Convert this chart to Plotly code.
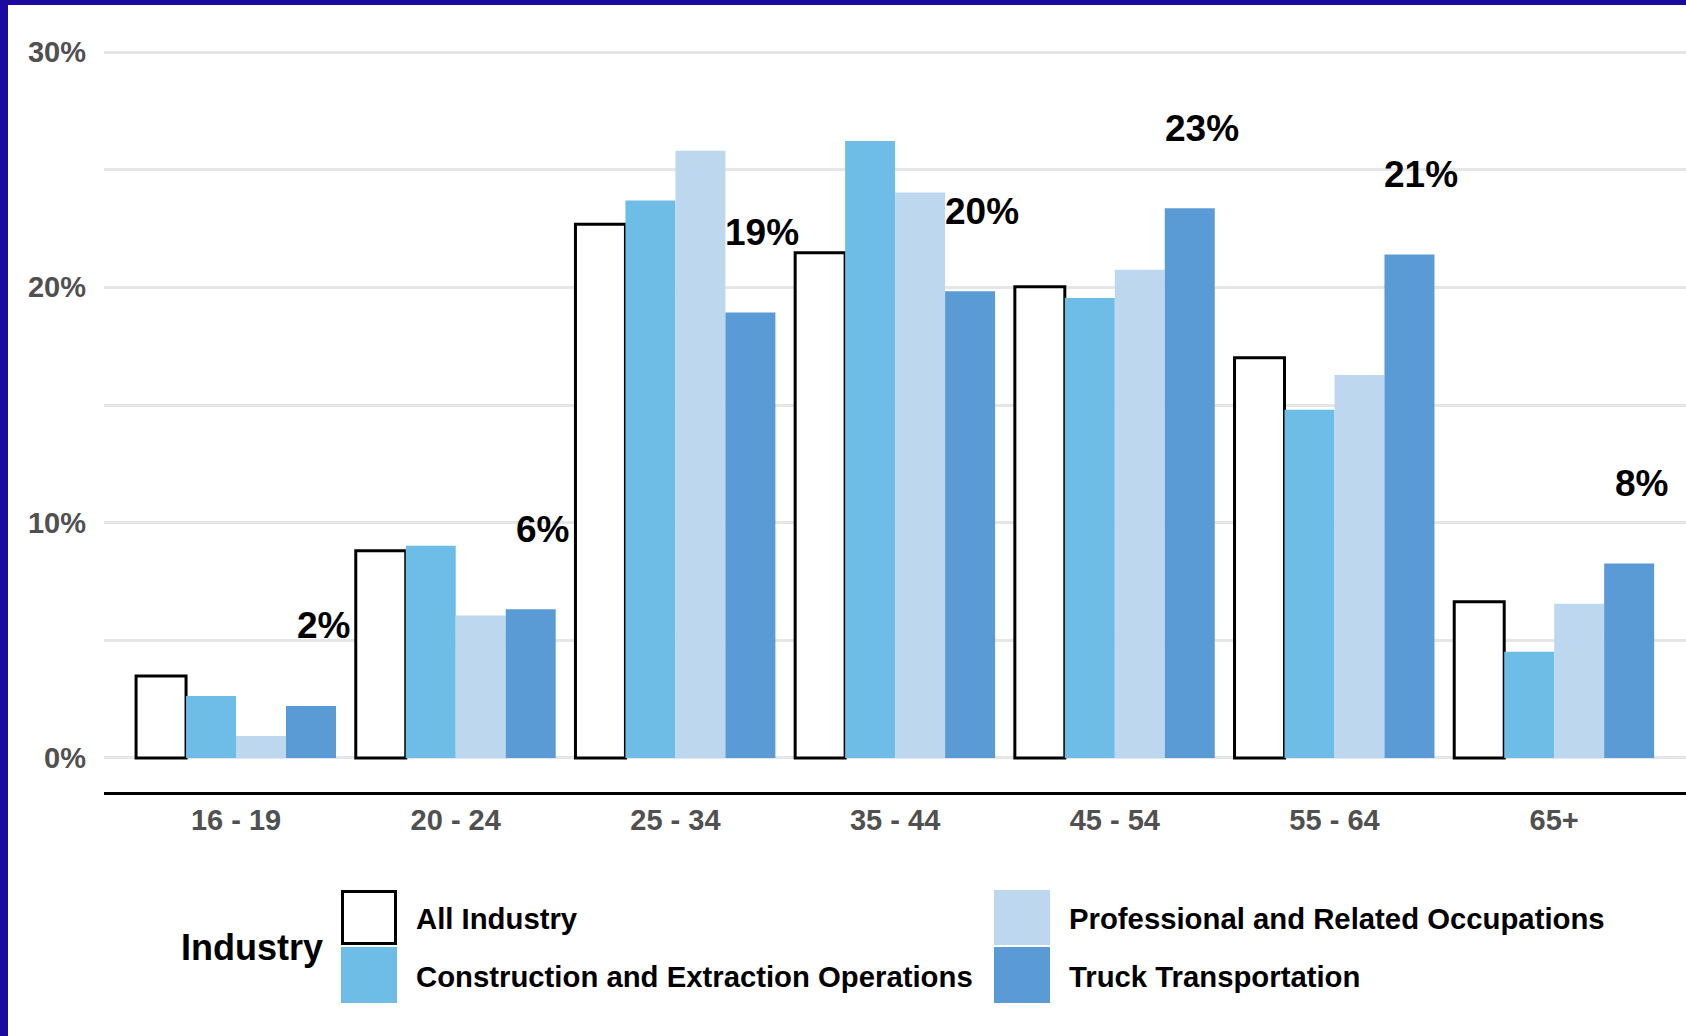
import plotly.graph_objects as go

# ---- data ----
categories = ["16 - 19", "20 - 24", "25 - 34", "35 - 44", "45 - 54", "55 - 64", "65+"]
all_industry = [3.48, 8.81, 22.68, 21.47, 20.03, 17.01, 6.64]
construction = [2.63, 9.02, 23.69, 26.22, 19.55, 14.80, 4.52]
professional = [0.93, 6.06, 25.80, 24.03, 20.75, 16.28, 6.55]
truck = [2.21, 6.32, 18.93, 19.83, 23.36, 21.40, 8.27]
series_names = ["All Industry", "Construction and Extraction Operations",
                "Professional and Related Occupations", "Truck Transportation"]
y_ticks = [0, 10, 20, 30]
y_tick_labels = ["0%", "10%", "20%", "30%"]

# ---- styling ----
W, H = 1686, 1036
L, R, T, B = 104, 0, 40, 244
FONT = "Liberation Sans, Arial, Helvetica, sans-serif"
C_ALL = "#ffffff"
C_CON = "#6ebde7"
C_PRO = "#bdd7ee"
C_TRK = "#5b9bd5"
GRID = "#e6e6e6"
TICK = "#505050"

def px_x(px):
    return (px - L) / (W - L - R)

def px_y(py):
    return (H - B - py) / (H - T - B)

fig = go.Figure()
fig.add_trace(go.Bar(x=categories, y=all_industry, name=series_names[0],
                     marker=dict(color=C_ALL, line=dict(color="black", width=3)),
                     showlegend=False))
fig.add_trace(go.Bar(x=categories, y=construction, name=series_names[1],
                     marker=dict(color=C_CON, line=dict(width=0)), showlegend=False))
fig.add_trace(go.Bar(x=categories, y=professional, name=series_names[2],
                     marker=dict(color=C_PRO, line=dict(width=0)), showlegend=False))
fig.add_trace(go.Bar(x=categories, y=truck, name=series_names[3],
                     marker=dict(color=C_TRK, line=dict(width=0)), showlegend=False))

annotations = []
for c, v in zip(categories, truck):
    annotations.append(dict(x=c, y=v, xref="x", yref="y", text=f"{v:.0f}%",
                            showarrow=False, xshift=87, yshift=80,
                            xanchor="center", yanchor="middle",
                            font=dict(family=FONT, size=37, color="black", weight="bold")))

# ---- custom legend ----
shapes = []
# page frame (blue border on left/top)
shapes.append(dict(type="rect", xref="paper", yref="paper", layer="below",
                   x0=px_x(8), x1=px_x(W + 5), y0=px_y(H + 5), y1=px_y(5),
                   fillcolor="white", line=dict(width=0)))

sw = [
    (341, 397, 890, 945, C_ALL, True),
    (341, 397, 947, 1003, C_CON, False),
    (994, 1050, 890, 945, C_PRO, False),
    (994, 1050, 947, 1003, C_TRK, False),
]
for x0, x1, y0, y1, col, outline in sw:
    if outline:
        shapes.append(dict(type="rect", xref="paper", yref="paper",
                           x0=px_x(x0 + 1.5), x1=px_x(x1 - 1.5),
                           y0=px_y(y1 - 1.5), y1=px_y(y0 + 1.5),
                           fillcolor=col, line=dict(color="black", width=3)))
    else:
        shapes.append(dict(type="rect", xref="paper", yref="paper",
                           x0=px_x(x0), x1=px_x(x1), y0=px_y(y1), y1=px_y(y0),
                           fillcolor=col, line=dict(width=0)))

leg_text = [
    (414, 918, series_names[0]),
    (414, 976, series_names[1]),
    (1067, 918, series_names[2]),
    (1067, 976, series_names[3]),
]
for x, y, t in leg_text:
    annotations.append(dict(x=px_x(x), y=px_y(y), xref="paper", yref="paper", text=t,
                            showarrow=False, xanchor="left", yanchor="middle",
                            font=dict(family=FONT, size=29.3, color="black", weight="bold")))
annotations.append(dict(x=px_x(179), y=px_y(947), xref="paper", yref="paper", text="Industry",
                        showarrow=False, xanchor="left", yanchor="middle",
                        font=dict(family=FONT, size=36, color="black", weight="bold")))

fig.update_layout(
    width=W, height=H, autosize=False,
    margin=dict(l=L, r=R, t=T, b=B, pad=0),
    paper_bgcolor="#1c0aa0",
    plot_bgcolor="white",
    barmode="group", bargap=0.09, bargroupgap=0,
    font=dict(family=FONT),
    shapes=shapes, annotations=annotations,
    showlegend=False,
    xaxis=dict(
        type="category", range=[-0.601, 6.600],
        showline=True, linecolor="black", linewidth=3,
        showgrid=False, ticks="", ticklabelstandoff=0,
        tickfont=dict(family=FONT, size=29, color=TICK, weight="bold"),
        fixedrange=True,
    ),
    yaxis=dict(
        range=[-1.445, 30.51], tickmode="array", tickvals=y_ticks, ticktext=y_tick_labels,
        showgrid=True, gridcolor=GRID, gridwidth=3,
        minor=dict(dtick=5, tick0=0, showgrid=True, gridcolor=GRID, gridwidth=3),
        zeroline=False, showline=False, ticks="", ticklabelstandoff=17,
        tickfont=dict(family=FONT, size=29, color=TICK, weight="bold"),
        fixedrange=True,
    ),
)

fig.write_html("out.html")
